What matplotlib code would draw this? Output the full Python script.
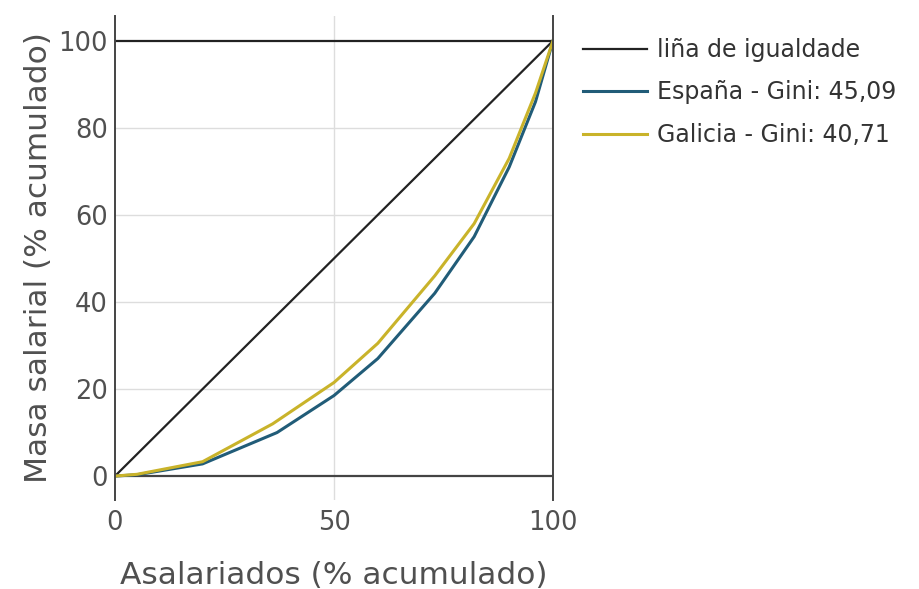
import matplotlib.pyplot as plt

# curva de Lorenz: % acumulado de asalariados vs masa salarial
x_espana = [0, 5, 20, 37, 50, 60, 73, 82, 90, 96, 100]
y_espana = [0, 0.3, 2.8, 10, 18.5, 27, 42, 55, 71, 86, 100]
x_galicia = [0, 5, 20, 36, 50, 60, 73, 82, 90, 96, 100]
y_galicia = [0, 0.4, 3.3, 12, 21.5, 30.5, 46, 58, 73, 88, 100]
x_igualdade = [0, 100]
y_igualdade = [0, 100]

col_espana = '#215c78'
col_galicia = '#c9b32a'
col_texto = '#505050'

fig = plt.figure(figsize=(9.19, 5.89), dpi=100)
ax = fig.add_axes([115 / 919, 89 / 589, 438 / 919, 484 / 589])

ax.plot(x_igualdade, y_igualdade, color='#222222', lw=1.6, label='liña de igualdade')
ax.plot(x_espana, y_espana, color=col_espana, lw=2.2, label='España - Gini: 45,09')
ax.plot(x_galicia, y_galicia, color=col_galicia, lw=2.2, label='Galicia - Gini: 40,71')

ax.set_xlim(0, 100)
ax.set_ylim(-5.5, 105.7)

# grella e liñas de referencia
for v in [20, 40, 60, 80]:
    ax.axhline(v, color='#dddddd', lw=1, zorder=0)
ax.axvline(50, color='#dddddd', lw=1, zorder=0)
ax.axhline(0, color='#444444', lw=1.6, zorder=1)
ax.axhline(100, color='#222222', lw=1.6, zorder=1)

for s in ['top', 'bottom']:
    ax.spines[s].set_visible(False)
for s in ['left', 'right']:
    ax.spines[s].set_color('#444444')
    ax.spines[s].set_linewidth(1.4)

ax.set_xticks([0, 50, 100])
ax.set_yticks([0, 20, 40, 60, 80, 100])
ax.tick_params(axis='both', length=0, labelsize=18.5, colors=col_texto)
ax.tick_params(axis='x', pad=7)
ax.tick_params(axis='y', pad=5)

ax.set_xlabel('Asalariados (% acumulado)', fontsize=22.5, color=col_texto, labelpad=18)
ax.set_ylabel('Masa salarial (% acumulado)', fontsize=22.5, color=col_texto, labelpad=4)

fig.legend(loc='upper left', bbox_to_anchor=(583 / 919, 1 - 38 / 589), frameon=False,
           fontsize=17, handlelength=2.7, handletextpad=0.45, labelspacing=0.78,
           borderpad=0, borderaxespad=0, labelcolor='#333333')

fig.savefig('out.png', dpi=100)
